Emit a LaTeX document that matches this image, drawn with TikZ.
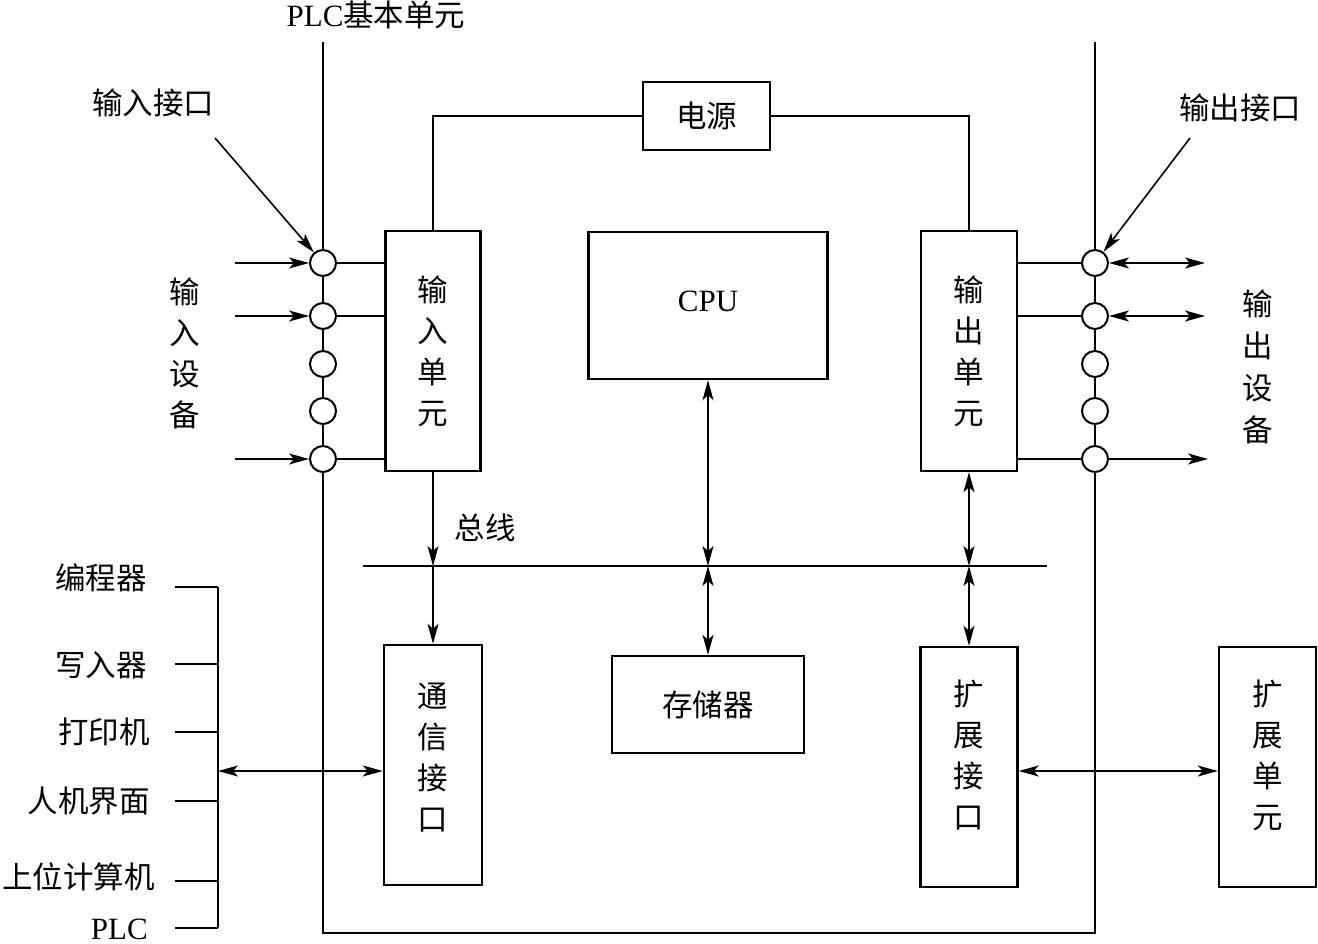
\documentclass[tikz,border=0pt]{standalone}
\usepackage{fontspec}
\setmainfont{Liberation Serif}
\newfontfamily\cjk{Noto Sans CJK SC}
\usetikzlibrary{arrows.meta}
\begin{document}
\begin{tikzpicture}[x=1pt,y=-1pt,
  box/.style={draw, line width=2.4pt, inner sep=0pt},
  zh/.style={font=\cjk\fontsize{30.5}{41}\selectfont, align=center, inner sep=0pt},
  lat/.style={font=\fontsize{31}{36}\selectfont, inner sep=0pt},
  port/.style={circle, draw, fill=white, line width=2pt, minimum size=26pt, inner sep=0pt},
  ln/.style={line width=1.6pt},
  frm/.style={line width=2pt},
  tip/.tip={Stealth[length=20pt,width=11pt,inset=5pt]},
  arr/.style={ln, -tip},
  darr/.style={ln, tip-tip}]
\useasboundingbox (0,0) rectangle (1318,944);

% frame of the PLC base unit
\coordinate (ftl) at (323,42);
\coordinate (fbl) at (323,933);
\coordinate (fbr) at (1095,933);
\coordinate (ftr) at (1095,42);
\draw[frm] (ftl) -- (fbl) -- (fbr) -- (ftr);

% boxes
\node[box, zh, minimum width=95pt, minimum height=240pt] (inu) at (433,351) {输\\入\\单\\元};
\node[box, zh, minimum width=96pt, minimum height=240pt] (outu) at (969,351) {输\\出\\单\\元};
\node[box, lat, minimum width=239pt, minimum height=147pt] (cpu) at (708,305.5) {\raisebox{9pt}{CPU}};
\node[box, zh, minimum width=127pt, minimum height=68pt] (pwr) at (706.5,116) {电源};
\node[box, minimum width=98pt, minimum height=240pt,
      label={[zh, yshift=7pt]center:{通\\信\\接\\口}}] (com) at (433,765) {};
\node[box, zh, minimum width=192pt, minimum height=97pt] (mem) at (708,704.5) {存储器};
\node[box, minimum width=97pt, minimum height=240pt,
      label={[zh, yshift=12pt]center:{扩\\展\\接\\口}}] (exi) at (969,767) {};
\node[box, minimum width=97pt, minimum height=240pt,
      label={[zh, yshift=12pt]center:{扩\\展\\单\\元}}] (exu) at (1267.5,767) {};

% ports
\foreach \i/\y in {1/263,2/316,3/364,4/411,5/459}{
  \node[port] (li\i) at (323,\y) {};
  \node[port] (ro\i) at (1095,\y) {};
}

% labels
\node[inner sep=0pt] (plc) at (376,15) {\fontsize{31}{36}\selectfont PLC{\cjk\fontsize{30.5}{36}\selectfont 基本单元}};
\node[zh] (inif) at (153,103) {输入接口};
\node[zh] (outif) at (1240,108) {输出接口};
\node[zh] (indev) at (185,353.5) {输\\入\\设\\备};
\node[zh, font=\cjk\fontsize{30.5}{42}\selectfont] (outdev) at (1258,366.5) {输\\出\\设\\备};
\node[zh] (busl) at (485,528) {总线};

% interface pointers
\coordinate (pin) at (215,138);
\coordinate (pout) at (1190,138);
\draw[arr] (pin) -- (li1);
\draw[arr] (pout) -- (ro1);

% input side
\foreach \i/\y in {1/263,2/316,5/459}{
  \coordinate (ia\i) at (235,\y);
  \draw[arr] (ia\i) -- (li\i);
  \draw[ln] (li\i) -- (li\i -| inu.west);
}
% output side
\foreach \i/\y in {1/263,2/316}{
  \coordinate (oa\i) at (1205,\y);
  \draw[ln] (outu.east |- ro\i) -- (ro\i);
  \draw[darr] (ro\i) -- (oa\i);
}
\coordinate (oa5) at (1208,459);
\draw[ln] (outu.east |- ro5) -- (ro5);
\draw[arr] (ro5) -- (oa5);

% power supply
\draw[ln] (inu.north) |- (pwr.west);
\draw[ln] (pwr.east) -| (outu.north);

% bus
\coordinate (bl) at (363,566);
\coordinate (br) at (1047,566);
\draw[ln] (bl) -- (br);
\draw[arr] (inu.south) -- (inu.south |- bl);
\draw[arr] (inu.south |- bl) -- (com.north);
\draw[darr] (cpu.south) -- (cpu.south |- bl);
\draw[darr] (cpu.south |- bl) -- (mem.north);
\draw[darr] (outu.south) -- (outu.south |- bl);
\draw[darr] (outu.south |- bl) -- (exi.north);

% expansion
\coordinate (em) at (1018,771);
\draw[darr] (exi.east |- em) -- (exu.west |- em);

% peripheral bracket
\coordinate (bt) at (218,587);
\coordinate (bb) at (218,928);
\draw[frm] (bt) -- (bb);
\foreach \i/\y in {1/587,2/664,3/732,4/801,5/881,6/928}{
  \coordinate (t\i) at (175,\y);
  \draw[frm] (t\i) -- (t\i -| bt);
}
\node[zh, anchor=east] (p1) at (147,578) {编程器};
\node[zh, anchor=east] (p2) at (147,665) {写入器};
\node[zh, anchor=east] (p3) at (150,732) {打印机};
\node[zh, anchor=east] (p4) at (150,801) {人机界面};
\node[zh, anchor=east] (p5) at (155,877) {上位计算机};
\node[lat, anchor=east] (p6) at (148,929) {PLC};
\coordinate (bm) at (218,771);
\draw[darr] (bm) -- (bm -| com.west);
\end{tikzpicture}
\end{document}
